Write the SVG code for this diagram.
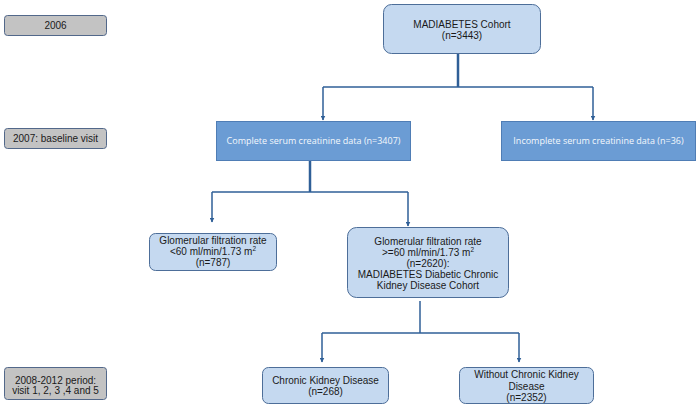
<svg xmlns="http://www.w3.org/2000/svg" width="700" height="409" viewBox="0 0 700 409">
<style>
.gray{fill:#c3c3c3;stroke:#52688a;stroke-width:1}
.lb{fill:#c5d9f0;stroke:#4d6e99;stroke-width:1}
.db{fill:#6b9cd4;stroke:#4f7db5;stroke-width:1}
.t{font-family:"Liberation Sans",Arial,sans-serif;font-size:10px;fill:#1a1a1a;text-anchor:middle}
.tw{font-family:"Open Sans","Liberation Sans",sans-serif;font-size:9px;fill:#f4f8fc;text-anchor:middle}
.c{fill:none;stroke:#2f5f97;stroke-width:1.5}
.ct{fill:none;stroke:#2f5f97;stroke-width:2.5}
</style>
<defs>
<marker id="ah" viewBox="0 0 10 10" refX="9" refY="5" markerWidth="5" markerHeight="5" orient="auto" markerUnits="userSpaceOnUse">
<path d="M0,0 L10,5 L0,10 Z" fill="#2f5f97"/>
</marker>
</defs>
<rect width="700" height="409" fill="#fff"/>
<g id="y2006"><rect class="gray" x="4.5" y="15.5" width="102" height="20" rx="3"/><text class="t" x="55.5" y="29">2006</text></g>
<g id="y2007"><rect class="gray" x="4.5" y="128.5" width="102" height="20" rx="3"/><text class="t" x="55.5" y="142">2007: baseline visit</text></g>
<g id="y2008"><rect class="gray" x="4.5" y="367.5" width="102" height="32" rx="3"/><text class="t" x="55.5" y="383.5">2008-2012 period:</text><text class="t" x="55.5" y="394">visit 1, 2, 3 ,4 and 5</text></g>
<g id="cohort"><rect class="lb" x="383.5" y="4.5" width="157" height="49" rx="8"/><text class="t" x="462" y="27.5">MADIABETES Cohort</text><text class="t" x="462" y="38.5">(n=3443)</text></g>
<g id="complete"><rect class="db" x="216.5" y="121.5" width="194" height="39"/><text class="tw" x="313.5" y="144">Complete serum creatinine data (n=3407)</text></g>
<g id="incomplete"><rect class="db" x="501.5" y="121.5" width="194" height="39"/><text class="tw" x="598.5" y="144">Incomplete serum creatinine data (n=36)</text></g>
<g id="gfrlow"><rect class="lb" x="149.5" y="233.5" width="127" height="37" rx="6"/><text class="t" x="213" y="243.5">Glomerular filtration rate</text><text class="t" x="213" y="254.5">&lt;60 ml/min/1.73 m<tspan font-size="6.5" dy="-4">2</tspan></text><text class="t" x="213" y="265.5">(n=787)</text></g>
<g id="gfrhigh"><rect class="lb" x="347.5" y="227.5" width="161" height="70" rx="9"/><text class="t" x="428" y="244.5">Glomerular filtration rate</text><text class="t" x="428" y="255.5">&gt;=60 ml/min/1.73 m<tspan font-size="6.5" dy="-4">2</tspan></text><text class="t" x="428" y="266.5">(n=2620):</text><text class="t" x="428" y="277.5">MADIABETES Diabetic Chronic</text><text class="t" x="428" y="288.5">Kidney Disease Cohort</text></g>
<g id="ckd"><rect class="lb" x="262.5" y="367.5" width="126" height="36" rx="6"/><text class="t" x="325.5" y="383.5">Chronic Kidney Disease</text><text class="t" x="325.5" y="394.5">(n=268)</text></g>
<g id="nockd"><rect class="lb" x="459.5" y="367.5" width="134" height="36" rx="6"/><text class="t" x="526.5" y="378">Without Chronic Kidney</text><text class="t" x="526.5" y="390">Disease</text><text class="t" x="526.5" y="401">(n=2352)</text></g>
<g id="connectors">
<path class="ct" d="M458,54 V87"/>
<path class="c" d="M323,87 H593"/>
<path class="c" d="M323,87 V120" marker-end="url(#ah)"/>
<path class="c" d="M593,87 V120" marker-end="url(#ah)"/>
<path class="ct" d="M310,161 V192"/>
<path class="c" d="M212,192 H408"/>
<path class="c" d="M212,192 V222" marker-end="url(#ah)"/>
<path class="c" d="M408,192 V226" marker-end="url(#ah)"/>
<path class="c" d="M420,301 V333"/>
<path class="c" d="M322,333 H519"/>
<path class="c" d="M322,333 V362" marker-end="url(#ah)"/>
<path class="c" d="M519,333 V362" marker-end="url(#ah)"/>
</g>
</svg>
